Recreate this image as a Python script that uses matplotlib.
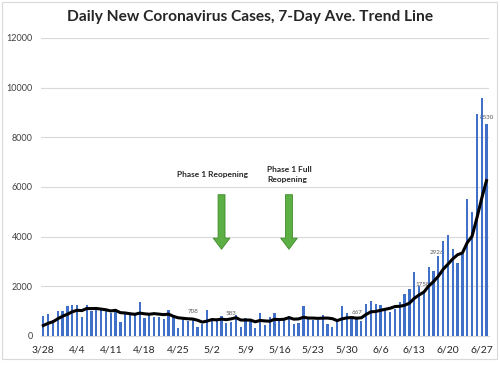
import matplotlib
matplotlib.use("Agg")
import matplotlib.pyplot as plt
import numpy as np
import pandas as pd
from matplotlib.patches import FancyArrowPatch, Rectangle

# daily new cases 3/28 .. 6/28
cases = [800, 880, 650, 1020, 1000, 1220, 1240,
         1240, 780, 1240, 1000, 1040, 1040, 1040,
         920, 950, 580, 910, 830, 880, 1380,
         720, 830, 750, 770, 680, 1030, 760,
         306, 689, 610, 708, 347, 497, 1038,
         735, 615, 819, 542, 583, 826, 371,
         735, 610, 340, 910, 450, 750, 910,
         650, 720, 790, 475, 520, 1200, 700,
         640, 640, 860, 490, 350, 650, 1190,
         910, 760, 667, 590, 1290, 1400, 1290,
         1240, 1050, 950, 1080, 1360, 1690, 1880,
         2580, 2016, 1758, 2783, 2610, 3207, 3822,
         4049, 3494, 2926, 3289, 5508, 5004, 8942,
         9585, 8530]
# six days before 3/28, only needed for the start of the 7-day average
prior_cases = [240, 220, 190, 270, 670, 550]

start_date = "2020-03-28"
tick_every = 7
y_ticks = [0, 2000, 4000, 6000, 8000, 10000, 12000]

# data labels shown on the chart: day index -> label position
label_days = [31, 39, 65, 79, 86, 92]
label_pos = [(31.1, 980), (38.9, 890), (65.1, 950), (78.8, 2060), (81.7, 3350), (92.1, 8800)]

# reopening arrows
events = ["Phase 1 Reopening", "Phase 1 Full\nReopening"]
event_days = [37, 51]

dates = pd.date_range(start_date, periods=len(cases), freq="D")
x = np.arange(len(cases))
all_cases = pd.Series(prior_cases + cases)
trend = all_cases.rolling(7).mean().to_numpy()[len(prior_cases):]

plt.rcParams["font.family"] = ["Lato", "DejaVu Sans"]

fig = plt.figure(figsize=(5, 3.68), dpi=100)
fig.patches.append(Rectangle((0.004, 0.024), 0.99, 0.97, transform=fig.transFigure,
                             fill=False, ec="#d9d9d9", lw=0.8))
ax = fig.add_axes([0.0818, 0.087, 0.896, 0.81])

ax.bar(x, cases, width=0.47, color="#4070c8", zorder=3)
ax.plot(x, trend, color="black", lw=2.2, zorder=4)

for d, (lx, ly) in zip(label_days, label_pos):
    ax.text(lx, ly, str(cases[d]), fontsize=4.5, color="#595959",
            ha="center", va="center", zorder=2)

ax.set_xlim(-0.5, len(cases) - 0.5)
ax.set_ylim(0, 12000)
ax.set_yticks(y_ticks)
ax.set_yticklabels([str(v) for v in y_ticks])
ticks = x[::tick_every]
ax.set_xticks(ticks)
ax.set_xticklabels([f"{d.month}/{d.day}" for d in dates[::tick_every]])
ax.tick_params(axis="y", length=0, labelsize=6.5, pad=6, labelcolor="#404040")
ax.tick_params(axis="x", length=0, labelsize=7.5, pad=7, labelcolor="#262626")
ax.grid(axis="y", color="#d9d9d9", lw=0.8, zorder=0)
for s in ["top", "right", "left"]:
    ax.spines[s].set_visible(False)
ax.spines["bottom"].set_color("#d9d9d9")

# arrows + notes
for d in event_days:
    arr = FancyArrowPatch((d, 5800), (d, 3380),
                          arrowstyle="simple,head_length=0.8,head_width=1.2,tail_width=0.5",
                          mutation_scale=10, fc="#5cb043", ec="#3f8a2c", lw=0.6, zorder=5)
    ax.add_patch(arr)
ax.text(event_days[0] - 1.9, 6500, events[0], fontsize=6, fontweight="bold",
        ha="center", va="center", color="#262626")
ax.text(event_days[1] - 4.5, 6500, events[1], fontsize=6, fontweight="bold",
        ha="left", va="center", color="#262626", linespacing=1.5)

fig.text(0.5, 0.953, "Daily New Coronavirus Cases, 7-Day Ave. Trend Line",
         ha="center", va="center", fontsize=11.2, fontweight="bold", color="#262626")

fig.savefig("out.png", dpi=100)
